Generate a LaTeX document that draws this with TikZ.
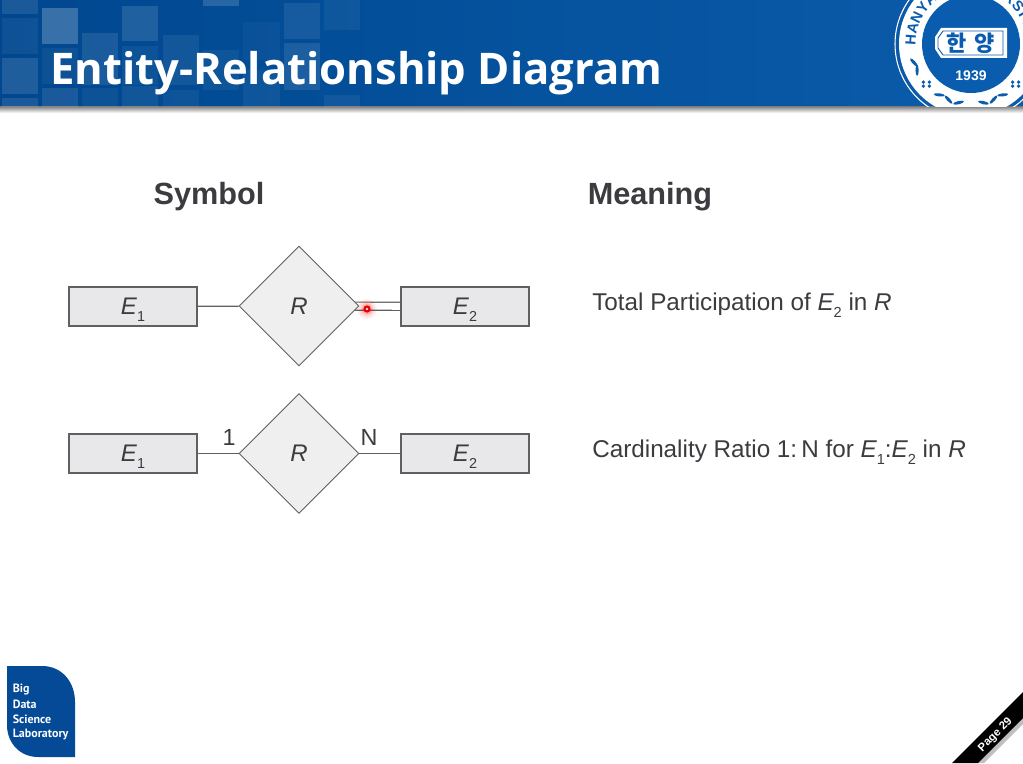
\documentclass[tikz,border=0pt]{standalone}
\usepackage{fontspec}
\setmainfont{Liberation Sans}
\newfontfamily\titlefont{Open Sans}
\newfontfamily\labfont{PT Sans}
\newfontfamily\cjkfont{Noto Sans CJK KR}
\usetikzlibrary{shapes.geometric,backgrounds}
\definecolor{hdrA}{HTML}{00478F}
\definecolor{hdrB}{HTML}{0A5CAB}
\definecolor{logoblue}{HTML}{044A96}
\definecolor{sealblue}{HTML}{0A5DAE}
\definecolor{boxfill}{HTML}{E8E8EA}
\definecolor{diafill}{HTML}{EFEFEF}
\definecolor{lineg}{HTML}{606060}
\definecolor{txt}{HTML}{3C3C40}
\newcommand{\Esym}[1]{{\itshape E}\smash{\raisebox{-.3em}{\fontsize{.6em}{1em}\selectfont #1}}}
\newcommand{\fs}[1]{\fontsize{#1}{#1}\selectfont}
\tikzset{
  x=0.75pt,y=-0.75pt,
  entity/.style={draw=lineg,fill=boxfill,line width=.9pt,minimum width=96pt,minimum height=29.25pt,inner sep=0pt,text=txt,font=\fs{18}},
  rel/.style={diamond,aspect=1,draw=lineg,fill=diafill,line width=.7pt,minimum width=90pt,minimum height=90pt,inner sep=0pt,text=txt,font=\fs{18}\itshape},
  conn/.style={draw=lineg,line width=.85pt},
  head/.style={text=txt,font=\fs{23}\bfseries,inner sep=0pt,anchor=base},
  mean/.style={text=txt,font=\fs{18.2},anchor=base west,inner sep=0pt},
  card/.style={text=txt,font=\fs{17.5},inner sep=0pt},
  tile/.style={fill=white,fill opacity=#1,draw=none},
  logotext/.style={text=white,font=\labfont\bfseries\fs{9},anchor=west,inner sep=0pt},
}
\begin{document}
\begin{tikzpicture}
\useasboundingbox (0,0) rectangle (1023,763);
\begin{scope}[on background layer]
  \fill[white] (0,0) rectangle (1023,763);
\end{scope}
% header
\shade[left color=hdrA,right color=hdrB] (0,0) rectangle (1023,107);
\shade[top color=black!45,bottom color=white] (0,107) rectangle (1023,113);
\foreach \a/\b/\c/\d/\o in {2/0/38/14/.10, 2/18/38/54/.06, 2/58/38/94/.12, 2/98/38/107/.10,
  42/8/78/44/.22, 42/48/78/84/.05, 42/88/78/107/.10,
  82/33/118/85/.10, 82/88/118/107/.05,
  122/6/158/41/.12, 122/46/158/85/.05, 122/86/158/107/.07,
  163/35/199/85/.07, 163/90/199/107/.05,
  203/0/239/6/.15, 203/50/239/90/.05, 243/22/280/60/.03, 243/70/280/107/.05,
  284/3/320/39/.08, 284/43/320/90/.10, 324/0/360/30/.05, 324/95/360/107/.06}
  \fill[tile=\o] (\a,\b) rectangle (\c,\d);
\node[text=white,font=\titlefont\bfseries\fs{32.7},anchor=base west,inner sep=0pt] (title) at (50,85) {Entity-Relationship Diagram};
% seal
\begin{scope}
  \clip (880,0) rectangle (1023,107);
  \draw[white,line width=.8pt] (971,44) circle[radius=76];
  \fill[white] (971,44) circle[radius=72];
  \fill[sealblue] (971,44) circle[radius=49];
  \foreach \c/\a in {H/176,A/165,N/154,Y/143,A/132,N/121,G/110,E/62,R/50,S/39,I/30,T/20,Y/8}{
    \pgfmathsetmacro{\px}{971+60.5*cos(\a)}
    \pgfmathsetmacro{\py}{44-60.5*sin(\a)}
    \pgfmathsetmacro{\rr}{\a-90}
    \node[text=sealblue,font=\bfseries\fs{11},rotate=\rr,inner sep=0pt] at (\px,\py) {\c};
  }
  % laurel
  \foreach \a/\t in {198/25,206/-25,238/25,248/-25,258/25,282/-25,292/25,302/-25,334/25,342/-25}{
    \pgfmathsetmacro{\px}{971+60*cos(\a)}
    \pgfmathsetmacro{\py}{44-60*sin(\a)}
    \pgfmathsetmacro{\rr}{\a+90+\t}
    \fill[sealblue,rotate around={\rr:(\px,\py)}] (\px,\py) ellipse[x radius=5.5,y radius=1.6];
  }
  \foreach \a in {222,318}{
    \pgfmathsetmacro{\px}{971+60*cos(\a)}
    \pgfmathsetmacro{\py}{44-60*sin(\a)}
    \foreach \dx/\dy in {-3/-2,3/-2,-3/2,3/2}
      \fill[sealblue] (\px+\dx,\py+\dy) circle[radius=1.9];
  }
  \fill[white] (941,28) -- (1007,28) -- (1007,58) -- (941,58) -- (935,49) -- (935,37) -- cycle;
  \draw[sealblue,line width=.7pt] (943,31) -- (1003,31) -- (1003,55) -- (943,55) -- (938,48) -- (938,38) -- cycle;
\end{scope}
\node[text=sealblue,font=\cjkfont\bfseries\fs{16.5},inner sep=0pt] (hanyang) at (971,43) {한\hspace{.35em}양};
\node[text=white,font=\bfseries\fs{10.5},inner sep=0pt] (year) at (971,76) {1939};
% headings
\node[head] (symbol) at (209,204) {Symbol};
\node[head] (meaning) at (650,204) {Meaning};
% row 1
\node[entity] (e1a) at (133,306.5) {\Esym{1}};
\node[rel] (r1) at (299,306) {R};
\node[entity] (e2a) at (465,306.5) {\Esym{2}};
\begin{scope}[on background layer]
  \draw[conn] (e1a) -- (r1);
  \draw[conn,double=white,double distance=5.2pt] (r1.center) -- (e2a);
\end{scope}
\node[mean] (m1) at (592,310.5) {Total Participation of \Esym{2} in {\itshape R}};
% row 2
\node[entity] (e1b) at (133,453.5) {\Esym{1}};
\node[rel] (r2) at (299,453.5) {R};
\node[entity] (e2b) at (465,453.5) {\Esym{2}};
\draw[conn] (e1b) -- (r2);
\draw[conn] (r2) -- (e2b);
\node[card] (one) at (229,437.5) {1};
\node[card] (enn) at (369,437.5) {N};
\node[mean] (m2) at (592,457.5) {Cardinality Ratio 1:\,N for \Esym{1}:\Esym{2} in {\itshape R}};
% laser pointer
\foreach \r/\o in {10/.06,8/.08,6/.12,5/.15}
  \fill[red,opacity=\o] (367,309) circle[radius=\r];
\fill[red!90!black] (367,309) circle[radius=3.6];
\fill[white!85!red] (367,309) circle[radius=1.3];
% logo
\fill[logoblue] (7,666) -- (42,666) .. controls (62,666) and (75,682) .. (75,702) -- (75,757) -- (38,757) .. controls (20,757) and (7,743) .. (7,725) -- cycle;
\node[logotext] (l1) at (12.5,689) {Big};
\node[logotext] (l2) at (12.5,704) {Data};
\node[logotext] (l3) at (12.5,719) {Science};
\node[logotext] (l4) at (12.5,735) {Laboratory};
% page ribbon
\fill[black!25] (978,763) -- (1023,718) -- (1023,724) -- (984,763) -- cycle;
\fill[black] (952,763) -- (1023,692) -- (1023,718) -- (978,763) -- cycle;
\node[text=white,font=\bfseries\fs{8.5},rotate=45,inner sep=0pt] (page) at (995.5,735) {Page 29};
\end{tikzpicture}
\end{document}
